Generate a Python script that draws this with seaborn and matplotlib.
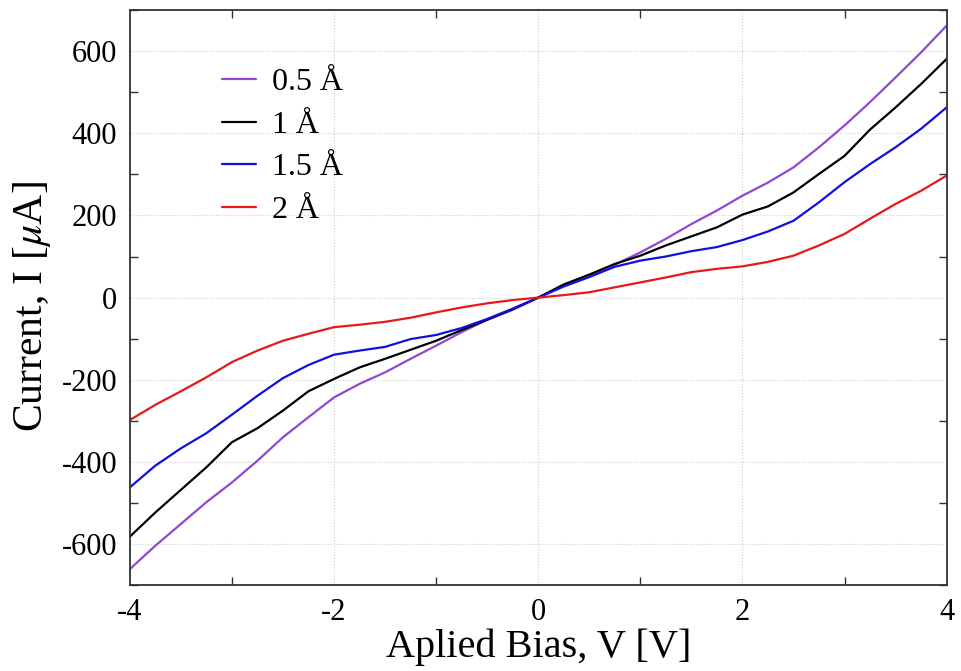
import numpy as np
import pandas as pd
import matplotlib
matplotlib.use("Agg")
import matplotlib.pyplot as plt
import seaborn as sns
from matplotlib.ticker import MultipleLocator

bias = [-4, -3.75, -3.5, -3.25, -3, -2.75, -2.5, -2.25, -2, -1.75, -1.5, -1.25, -1,
        -0.75, -0.5, -0.25, 0, 0.25, 0.5, 0.75, 1, 1.25, 1.5, 1.75, 2, 2.25, 2.5,
        2.75, 3, 3.25, 3.5, 3.75, 4]

cur_05 = [-661, -604, -551, -498, -450, -397, -340, -291, -243, -210, -182, -149, -117,
          -84, -54, -30, 0, 29, 54, 80, 110, 143, 179, 212, 248, 280, 317,
          366, 419, 476, 536, 597, 662]
cur_10 = [-582, -523, -468, -413, -352, -318, -275, -228, -198, -170, -149, -127, -105,
          -79, -54, -28, 0, 32, 56, 82, 102, 127, 149, 171, 202, 222, 256,
          301, 345, 409, 463, 520, 581]
cur_15 = [-462, -409, -367, -330, -285, -239, -196, -164, -139, -129, -120, -101, -91,
          -74, -52, -27, 0, 27, 50, 75, 90, 100, 113, 123, 140, 161, 187,
          232, 281, 325, 366, 411, 463]
cur_20 = [-298, -261, -228, -194, -157, -129, -105, -88, -72, -66, -59, -49, -36,
          -24, -14, -6, 0, 6, 13, 25, 37, 49, 62, 70, 76, 87, 102,
          127, 155, 192, 228, 260, 297]

labels = ["0.5 Å", "1 Å", "1.5 Å", "2 Å"]
colors = ["#9048d4", "#000000", "#1010e0", "#e81818"]

frames = []
for lab, vals in zip(labels, [cur_05, cur_10, cur_15, cur_20]):
    frames.append(pd.DataFrame({"V": bias, "I": vals, "d": lab}))
df = pd.concat(frames, ignore_index=True)

sns.set_style("white")
plt.rcParams["font.family"] = ["Liberation Serif", "DejaVu Serif"]
plt.rcParams["mathtext.fontset"] = "stix"
plt.rcParams["text.color"] = "black"
plt.rcParams["axes.labelcolor"] = "black"

fig = plt.figure(figsize=(9.62, 6.71), dpi=100)
ax = fig.add_axes([0.135, 0.128, 0.849, 0.857])

sns.lineplot(data=df, x="V", y="I", hue="d", palette=dict(zip(labels, colors)),
             hue_order=labels, linewidth=1.6, ax=ax, legend=False, sort=False,
             estimator=None)

ax.set_xlim(-4, 4)
ax.set_ylim(-700, 700)
ax.xaxis.set_major_locator(MultipleLocator(2))
ax.xaxis.set_minor_locator(MultipleLocator(1))
ax.yaxis.set_major_locator(MultipleLocator(200))
ax.yaxis.set_minor_locator(MultipleLocator(100))
ax.tick_params(which="major", length=0, labelsize=22, pad=9, colors="black")
ax.tick_params(which="minor", length=6, width=1.0, direction="in",
               top=True, right=True, bottom=True, left=True, color="#333333")
ax.set_xticklabels([f"{int(t)}" for t in ax.get_xticks()])
ax.set_yticklabels([f"{int(t)}" for t in ax.get_yticks()])

ax.grid(True, which="major", linestyle=":", linewidth=0.8, color="#cccccc")
for s in ax.spines.values():
    s.set_visible(True)
    s.set_color("#333333")
    s.set_linewidth(1.3)

ax.set_xlabel("Aplied Bias, V [V]", fontsize=29, labelpad=1)
ax.set_ylabel("Current, I [$\\mu$A]", fontsize=30)
ax.yaxis.set_label_coords(-0.094, 0.485)

handles = [plt.Line2D([], [], color=c, lw=1.6) for c in colors]
ax.legend(handles, labels, loc="upper left", bbox_to_anchor=(0.078, 0.95),
          frameon=False, fontsize=23, handlelength=1.05, handletextpad=0.5,
          labelspacing=0.42)

fig.savefig("out.png", dpi=100)
